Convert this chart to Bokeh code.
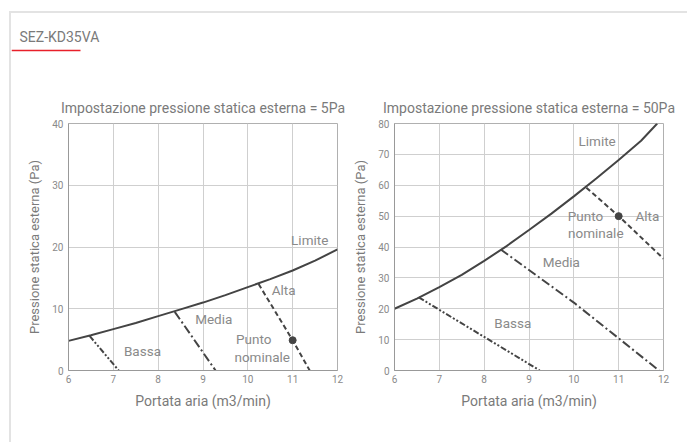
from bokeh.plotting import figure
from bokeh.layouts import column, row
from bokeh.models import Range1d, FixedTicker
from bokeh.embed import file_html
from bokeh.resources import INLINE
from bokeh.core.properties import value

# ---------------- data ----------------
header_title = "SEZ-KD35VA"
x_ticks = [6, 7, 8, 9, 10, 11, 12]

# Chart 1: 5 Pa setting
t1 = "Impostazione pressione statica esterna = 5Pa"
lim1_x = [6, 6.5, 7, 7.5, 8, 8.5, 9, 9.5, 10, 10.5, 11, 11.5, 12]
lim1_y = [4.8, 5.7, 6.7, 7.7, 8.8, 9.9, 11.0, 12.2, 13.5, 14.8, 16.2, 17.8, 19.6]
bassa1_x = [6.47, 7.12]
bassa1_y = [5.6, 0]
media1_x = [8.37, 9.28]
media1_y = [9.5, 0]
alta1_x = [10.24, 11.0, 11.38]
alta1_y = [14.0, 4.9, 0]
nom1 = (11.0, 4.9)
y1_ticks = [0, 10, 20, 30, 40]

# Chart 2: 50 Pa setting
t2 = "Impostazione pressione statica esterna = 50Pa"
lim2_x = [6, 6.5, 7, 7.5, 8, 8.5, 9, 9.5, 10, 10.5, 11, 11.5, 11.86]
lim2_y = [20, 23.3, 27, 31, 35.5, 40.3, 45.5, 50.8, 56.4, 62.2, 68.2, 74.4, 80]
bassa2_x = [6.54, 9.24]
bassa2_y = [23.7, 0]
media2_x = [8.37, 10.0, 11.9]
media2_y = [39.2, 22.0, 0]
alta2_x = [10.28, 11.0, 12.0]
alta2_y = [59.2, 50.0, 36.2]
nom2 = (11.0, 50.0)
y2_ticks = [0, 10, 20, 30, 40, 50, 60, 70, 80]

labels1 = {"Limite": (11.38, 21.2), "Alta": (10.8, 13.1), "Media": (9.24, 8.4),
           "Punto": (10.13, 5.1), "nominale": (10.32, 2.2), "Bassa": (7.65, 3.1)}
labels2 = {"Limite": (10.52, 74.3), "Punto": (10.26, 50.2), "nominale": (10.49, 44.4),
           "Alta": (11.64, 49.9), "Media": (9.72, 35.0), "Bassa": (8.64, 15.3)}

x_label = "Portata aria (m3/min)"
y_label = "Pressione statica esterna (Pa)"

FONT = "Roboto"
LINE = "#444444"
GREY_TXT = "#8a8a8a"


def chart(title, ymax, yticks, lim, bassa, media, alta, nom, labels, mb_left, mb_right):
    p = figure(output_backend="svg", toolbar_location=None,
               frame_width=269, frame_height=247,
               min_border_left=mb_left, min_border_right=mb_right,
               min_border_top=45, min_border_bottom=72,
               x_range=Range1d(6, 12), y_range=Range1d(0, ymax),
               title=title)
    p.title.text_font = FONT
    p.title.text_font_size = "14px"
    p.title.text_font_style = "normal"
    p.title.text_color = "#7a7a7a"
    p.title.align = "center"
    p.title.standoff = 16
    p.outline_line_color = "#b0b0b0"
    p.background_fill_color = "white"
    p.border_fill_color = "white"
    for ax in (p.xaxis[0], p.yaxis[0]):
        ax.axis_line_color = "#999999"
        ax.major_tick_line_color = None
        ax.minor_tick_line_color = None
        ax.major_tick_out = 0
        ax.major_tick_in = 0
        ax.minor_tick_out = 0
        ax.minor_tick_in = 0
        ax.major_label_text_font = FONT
        ax.major_label_text_font_size = "10px"
        ax.major_label_text_color = GREY_TXT
        ax.axis_label_text_font = FONT
        ax.axis_label_text_font_style = "normal"
        ax.axis_label_text_color = "#7a7a7a"
    p.xaxis.major_label_standoff = 4
    p.yaxis.major_label_standoff = 5
    p.xaxis.axis_label_text_font_size = "14px"
    p.yaxis.axis_label_text_font_size = "13px"
    p.xaxis.ticker = FixedTicker(ticks=x_ticks)
    p.yaxis.ticker = FixedTicker(ticks=yticks)
    p.xaxis.axis_label = x_label
    p.yaxis.axis_label = y_label
    p.xaxis.axis_label_standoff = 7
    p.yaxis.axis_label_standoff = 7
    p.grid.grid_line_color = "#cfcfcf"
    p.grid.grid_line_width = 1

    p.line(lim[0], lim[1], line_color=LINE, line_width=2)
    p.line(bassa[0], bassa[1], line_color=LINE, line_width=2, line_dash="6 2 2 2 2 2")
    p.line(media[0], media[1], line_color=LINE, line_width=2, line_dash="9 3 2 3")
    p.line(alta[0], alta[1], line_color=LINE, line_width=2, line_dash="5 3")
    p.scatter([nom[0]], [nom[1]], size=7, color=LINE)
    names = list(labels.keys())
    p.text([labels[n][0] for n in names], [labels[n][1] for n in names], text=names,
           text_font=value(FONT), text_font_size="13.5px", text_color=GREY_TXT,
           text_align="center", text_baseline="middle")
    return p


p1 = chart(t1, 40, y1_ticks, (lim1_x, lim1_y), (bassa1_x, bassa1_y), (media1_x, media1_y),
           (alta1_x, alta1_y), nom1, labels1, 57, 8)
p2 = chart(t2, 80, y2_ticks, (lim2_x, lim2_y), (bassa2_x, bassa2_y), (media2_x, media2_y),
           (alta2_x, alta2_y), nom2, labels2, 49, 18)

# header
h = figure(output_backend="svg", toolbar_location=None, width=676, height=65,
           x_range=Range1d(0, 676), y_range=Range1d(65, 0),
           min_border=0, min_border_left=0, min_border_right=0,
           min_border_top=0, min_border_bottom=0)
h.axis.visible = False
h.grid.visible = False
h.outline_line_color = None
h.text([8], [23], text=[header_title], text_font=value(FONT), text_font_size="14px",
       text_color="#7a7a7a", text_baseline="middle")
h.segment([0], [37], [69], [37], line_color="#e8202a", line_width=1.5)

layout = column(h, row(p1, p2), margin=(11, 0, 0, 9),
                styles={"border-top": "2px solid #e3e3e3", "border-left": "2px solid #e3e3e3"})

open("out.html", "w").write(file_html(layout, INLINE))
